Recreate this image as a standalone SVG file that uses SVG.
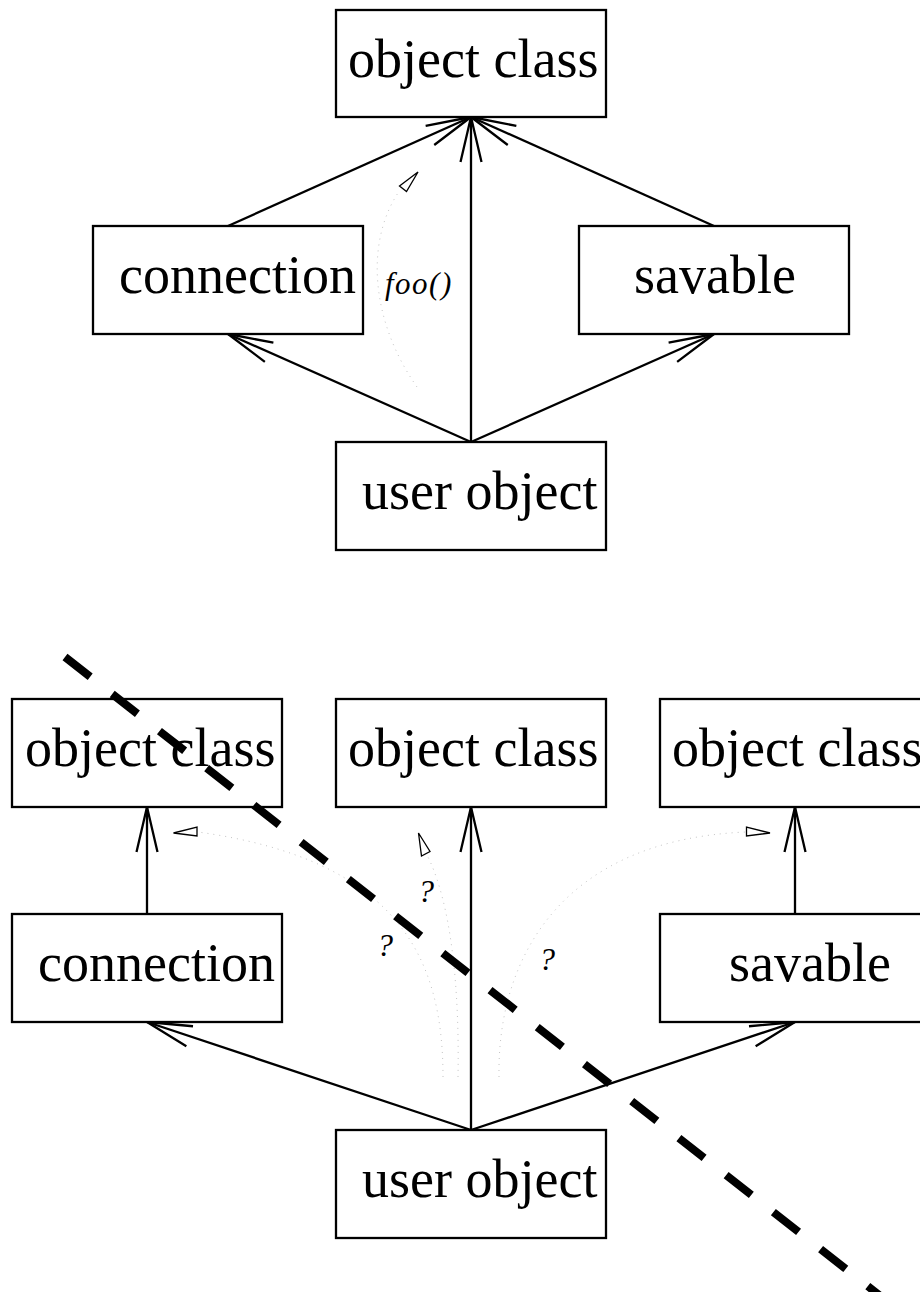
<svg xmlns="http://www.w3.org/2000/svg" width="920" height="1292" viewBox="0 0 920 1292">
  <style>
    .box { fill: #ffffff; stroke: #000000; stroke-width: 2.3; }
    .label { font-family: "Liberation Serif", "Times New Roman", serif; font-size: 54px; fill: #000000; }
    .note { font-family: "Liberation Serif", "Times New Roman", serif; font-style: italic; font-size: 31px; letter-spacing: 1.5px; fill: #000000; }
    .ask { font-family: "Liberation Serif", "Times New Roman", serif; font-style: italic; font-size: 32px; fill: #000000; }
    .inherit { fill: none; stroke: #000000; stroke-width: 2.3; marker-end: url(#open-arrow); }
    .call { fill: none; stroke: #c4c4c4; stroke-width: 1; stroke-dasharray: 1 5; }
    .tip { fill: #ffffff; stroke: #000000; stroke-width: 1.3; stroke-linejoin: miter; }
    .cut { fill: none; stroke: #000000; stroke-width: 8; stroke-dasharray: 32 28; stroke-linecap: butt; }
  </style>
  <defs>
    <marker id="open-arrow" markerUnits="userSpaceOnUse" viewBox="-50 -15 55 30" refX="0" refY="0" markerWidth="55" markerHeight="30" orient="auto" overflow="visible">
      <path d="M -45 -10.5 L 0 0 L -45 10.5" fill="none" stroke="#000000" stroke-width="2.3"/>
    </marker>
  </defs>

  <rect width="920" height="1292" fill="#ffffff"/>

  <!-- upper hierarchy: single shared base -->
  <g id="connectors-top">
    <line class="inherit" x1="228" y1="226" x2="471" y2="117"/>
    <line class="inherit" x1="714" y1="226" x2="471" y2="117"/>
    <line class="inherit" x1="471" y1="442" x2="471" y2="117"/>
    <line class="inherit" x1="471" y1="442" x2="228" y2="334"/>
    <line class="inherit" x1="471" y1="442" x2="714" y2="334"/>
    <path class="call" d="M 417 387 C 370 320, 365 240, 400 190"/>
    <polygon class="tip" points="418,172 399.5,186 406.5,191.5"/>
    <text class="note" x="385" y="294">foo()</text>
  </g>

  <g id="top-object-class">
    <rect class="box" x="336" y="10" width="270" height="107"/>
    <text class="label" x="348" y="77">object class</text>
  </g>
  <g id="top-connection">
    <rect class="box" x="93" y="226" width="270" height="108"/>
    <text class="label" x="119" y="293">connection</text>
  </g>
  <g id="top-savable">
    <rect class="box" x="579" y="226" width="270" height="108"/>
    <text class="label" x="634" y="293">savable</text>
  </g>
  <g id="top-user-object">
    <rect class="box" x="336" y="442" width="270" height="108"/>
    <text class="label" x="362" y="509">user object</text>
  </g>

  <!-- lower hierarchy: separate bases -->
  <g id="connectors-bottom">
    <line class="inherit" x1="147" y1="914" x2="147" y2="807"/>
    <line class="inherit" x1="471" y1="1130" x2="471" y2="807"/>
    <line class="inherit" x1="795" y1="914" x2="795" y2="807"/>
    <line class="inherit" x1="471" y1="1130" x2="147" y2="1022"/>
    <line class="inherit" x1="471" y1="1130" x2="795" y2="1022"/>
    <path class="call" d="M 443 1077 C 443 960, 400 860, 198 832"/>
    <polygon class="tip" points="173.5,833 197,827 197,836"/>
    <path class="call" d="M 458 1077 C 460 960, 445 890, 427 855"/>
    <polygon class="tip" points="418.5,833 430,851.5 421.5,856"/>
    <path class="call" d="M 499 1077 C 497 960, 560 840, 746 832"/>
    <polygon class="tip" points="770,833 746.5,827 746.5,836"/>
    <text class="ask" x="418" y="902">?</text>
    <text class="ask" x="377" y="956">?</text>
    <text class="ask" x="539" y="970">?</text>
  </g>

  <g id="bottom-object-class-left">
    <rect class="box" x="12" y="699" width="270" height="108"/>
    <text class="label" x="25" y="766">object class</text>
  </g>
  <g id="bottom-object-class-middle">
    <rect class="box" x="336" y="699" width="270" height="108"/>
    <text class="label" x="348" y="766">object class</text>
  </g>
  <g id="bottom-object-class-right">
    <rect class="box" x="660" y="699" width="270" height="108"/>
    <text class="label" x="672" y="766">object class</text>
  </g>
  <g id="bottom-connection">
    <rect class="box" x="12" y="914" width="270" height="108"/>
    <text class="label" x="38" y="981">connection</text>
  </g>
  <g id="bottom-savable">
    <rect class="box" x="660" y="914" width="270" height="108"/>
    <text class="label" x="729" y="981">savable</text>
  </g>
  <g id="bottom-user-object">
    <rect class="box" x="336" y="1130" width="270" height="108"/>
    <text class="label" x="362" y="1197">user object</text>
  </g>

  <!-- thick dashed cut line across the lower hierarchy -->
  <line class="cut" x1="65" y1="657" x2="902" y2="1313"/>
</svg>
